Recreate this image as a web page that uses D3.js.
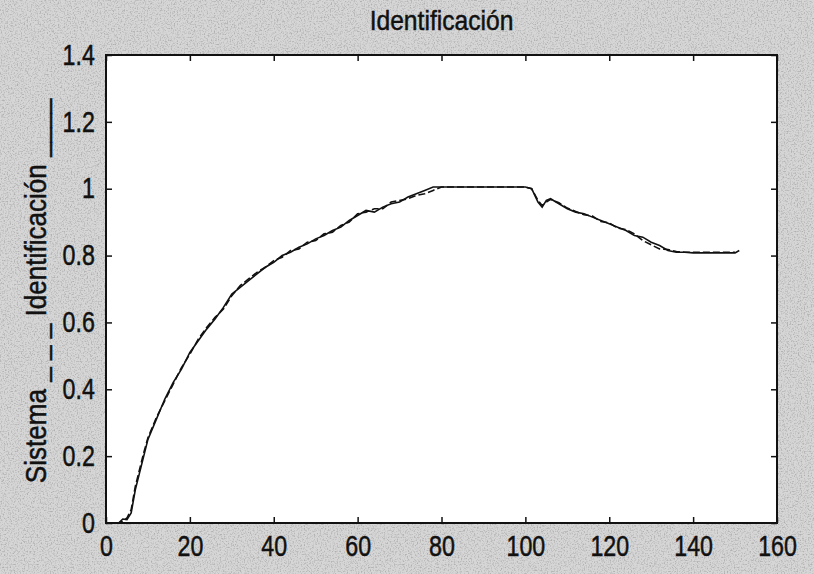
<!DOCTYPE html>
<html>
<head>
<meta charset="utf-8">
<script src="https://cdn.jsdelivr.net/npm/d3@7"></script>
<style>
  html, body { margin: 0; padding: 0; background: #d2d2d2; }
  svg { display: block; }
  .lbl { font-family: "Liberation Sans", Arial, sans-serif; fill: #111; stroke: #111; stroke-width: 0.5; }
</style>
</head>
<body>
<svg id="chart" width="814" height="574"></svg>
<script>
// Chart values
var title = "Identificación";
var yLabel = "Sistema _ _ _  Identificación ____";
var xTicks = [0, 20, 40, 60, 80, 100, 120, 140, 160];
var yTicks = [0, 0.2, 0.4, 0.6, 0.8, 1, 1.2, 1.4];

var tIdent = [0, 3, 4, 5, 6, 7, 8, 9, 10, 12, 14, 16, 18, 20, 22, 24, 26, 28, 30, 32, 34, 36, 38, 40,
  42, 44, 46, 48, 50, 52, 54, 56, 58, 60, 62, 64, 66, 68, 70, 72, 74, 76, 78, 80, 90, 100, 101.5,
  103, 104, 105, 106, 108, 110, 112, 114, 116, 118, 120, 122, 124, 126, 128, 130, 132, 134, 136,
  138, 140, 145, 150, 151];
var identificacion = [0, 0, 0.012, 0.01, 0.03, 0.10, 0.15, 0.20, 0.25, 0.31, 0.37, 0.42, 0.46, 0.51,
  0.545, 0.58, 0.61, 0.645, 0.685, 0.705, 0.725, 0.745, 0.765, 0.78, 0.80, 0.81, 0.825, 0.835, 0.85,
  0.86, 0.875, 0.885, 0.905, 0.92, 0.935, 0.93, 0.945, 0.955, 0.96, 0.975, 0.985, 0.995, 1.005,
  1.005, 1.005, 1.005, 1.0, 0.96, 0.945, 0.965, 0.97, 0.955, 0.94, 0.93, 0.925, 0.915, 0.905, 0.895,
  0.885, 0.875, 0.86, 0.855, 0.84, 0.83, 0.815, 0.81, 0.81, 0.808, 0.808, 0.808, 0.815];

var tSist = [0, 3, 4, 5, 6, 7, 8, 9, 10, 12, 14, 16, 18, 20, 22, 24, 26, 28, 30, 32, 34, 36, 38, 40,
  42, 44, 46, 48, 50, 52, 54, 56, 58, 60, 62, 64, 66, 68, 70, 72, 74, 76, 78, 80, 90, 100, 101.5,
  103, 104, 105, 106, 108, 110, 112, 114, 116, 118, 120, 122, 124, 126, 128, 130, 132, 134, 136,
  138, 140, 145, 150];
var sistema = [0, 0, 0.005, 0.015, 0.04, 0.11, 0.16, 0.21, 0.255, 0.315, 0.365, 0.415, 0.465, 0.505,
  0.55, 0.585, 0.615, 0.64, 0.68, 0.71, 0.73, 0.75, 0.765, 0.785, 0.795, 0.815, 0.82, 0.84, 0.845,
  0.865, 0.87, 0.89, 0.9, 0.925, 0.93, 0.94, 0.94, 0.96, 0.965, 0.97, 0.98, 0.985, 0.995, 1.005,
  1.005, 1.005, 1.0, 0.965, 0.95, 0.96, 0.968, 0.958, 0.942, 0.932, 0.922, 0.918, 0.902, 0.898,
  0.882, 0.878, 0.865, 0.845, 0.832, 0.82, 0.818, 0.812, 0.81, 0.81, 0.81, 0.81];

(function() {
  var svg = d3.select("#chart");
  var W = +svg.attr("width"), H = +svg.attr("height");
  var m = {top: 55, right: 37, bottom: 51, left: 106};
  var w = W - m.left - m.right, h = H - m.top - m.bottom;

  // scanned paper look
  var defs = svg.append("defs");
  var f = defs.append("filter").attr("id", "grain").attr("x", 0).attr("y", 0).attr("width", "100%").attr("height", "100%");
  f.append("feTurbulence").attr("type", "fractalNoise").attr("baseFrequency", 0.7).attr("numOctaves", 2).attr("seed", 4);
  f.append("feColorMatrix").attr("type", "matrix")
    .attr("values", "0 0 0 0 0.35  0 0 0 0 0.35  0 0 0 0 0.35  3 0 0 0 -1.4");

  svg.append("rect").attr("width", W).attr("height", H).attr("fill", "#d6d6d6");
  svg.append("rect").attr("width", W).attr("height", H).attr("filter", "url(#grain)").attr("opacity", 0.7);

  var x = d3.scaleLinear().domain([0, 160]).range([0, w]);
  var y = d3.scaleLinear().domain([0, 1.4]).range([h, 0]);

  var g = svg.append("g").attr("transform", "translate(" + m.left + "," + m.top + ")");
  g.append("rect").attr("width", w).attr("height", h).attr("fill", "#fff");

  // Lines
  var line = d3.line().x(function(d) { return x(d[0]); }).y(function(d) { return y(d[1]); });
  g.append("path").datum(d3.zip(tSist, sistema))
    .attr("d", line).attr("fill", "none").attr("stroke", "#111")
    .attr("stroke-width", 1.6).attr("stroke-dasharray", "7,3");
  g.append("path").datum(d3.zip(tIdent, identificacion))
    .attr("d", line).attr("fill", "none").attr("stroke", "#111")
    .attr("stroke-width", 1.6);

  // Axes, MATLAB style with inward ticks
  var fmt = function(d) { return d3.format("~g")(d); };
  var bottom = g.append("g").attr("transform", "translate(0," + h + ")")
    .call(d3.axisBottom(x).tickValues(xTicks).tickSize(-6).tickPadding(12).tickFormat(fmt));
  var left = g.append("g")
    .call(d3.axisLeft(y).tickValues(yTicks).tickSize(-6).tickPadding(14).tickFormat(fmt));
  var top = g.append("g")
    .call(d3.axisTop(x).tickValues(xTicks).tickSize(-6).tickFormat(""));
  var right = g.append("g").attr("transform", "translate(" + w + ",0)")
    .call(d3.axisRight(y).tickValues(yTicks).tickSize(-6).tickFormat(""));

  [bottom, left, top, right].forEach(function(a) {
    a.select(".domain").remove();
    a.selectAll("line").attr("stroke", "#111").attr("stroke-width", 1.5);
    a.selectAll("text").attr("class", "lbl").attr("font-size", 29)
      .attr("transform", "scale(0.8,1)");
  });

  g.append("rect").attr("width", w).attr("height", h)
    .attr("fill", "none").attr("stroke", "#111").attr("stroke-width", 2);

  // Title and y label
  svg.append("text").attr("class", "lbl")
    .attr("transform", "translate(" + (m.left + w / 2) + ",30) scale(0.88,1)")
    .attr("text-anchor", "middle").attr("font-size", 28)
    .text(title);

  svg.append("text").attr("class", "lbl")
    .attr("transform", "translate(46," + (m.top + h / 2 + 2) + ") rotate(-90) scale(0.9,1)")
    .attr("text-anchor", "middle").attr("font-size", 29)
    .text(yLabel);
}());
</script>
</body>
</html>
